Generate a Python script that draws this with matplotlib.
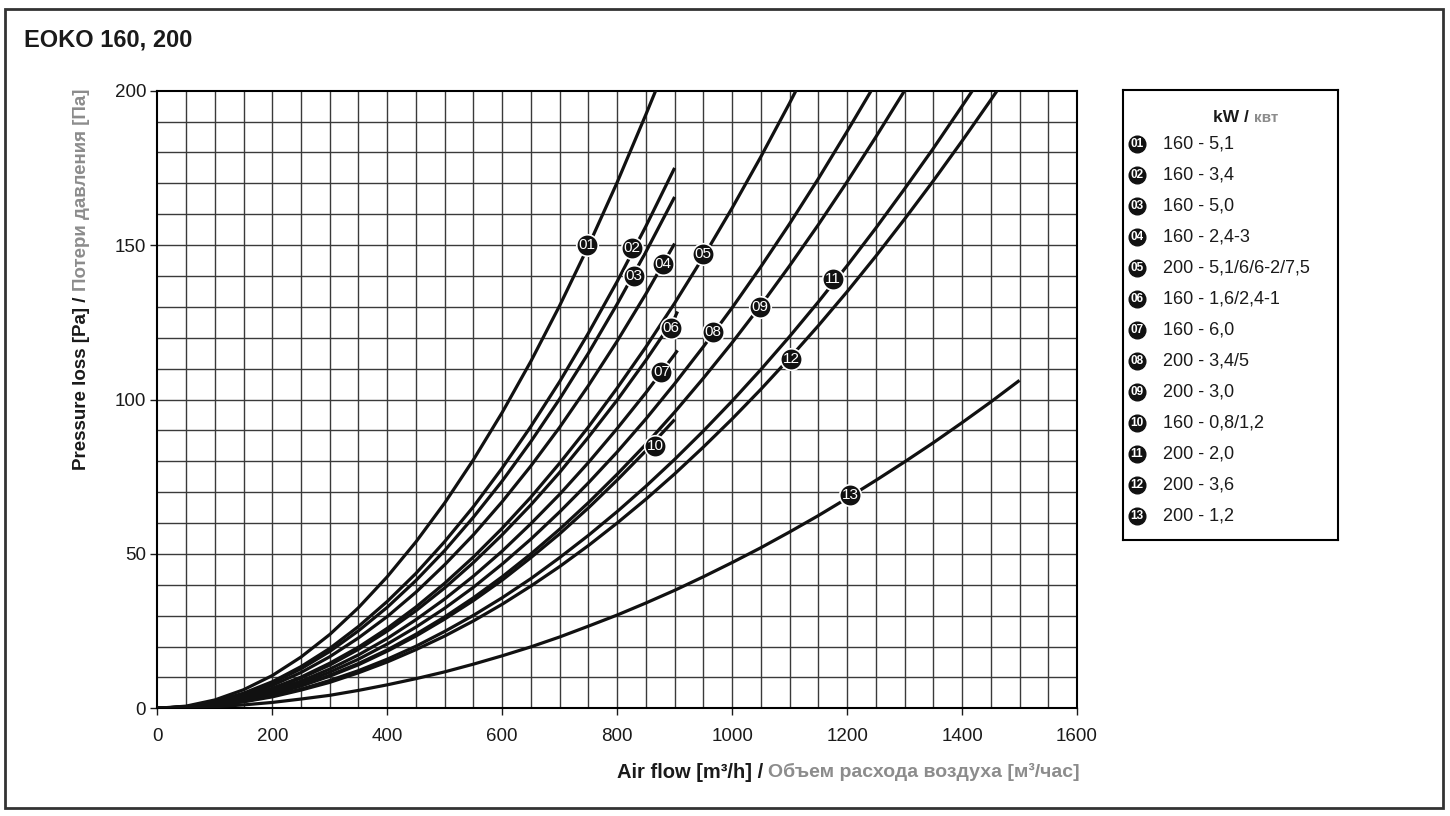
import matplotlib
matplotlib.use("Agg")
import matplotlib.pyplot as plt
from matplotlib.patches import Rectangle

plt.rcParams['font.family'] = ['Liberation Sans', 'DejaVu Sans']

W, H = 1450, 816

# air flow grid used for the read-off points [m3/h]
flow = [0, 50, 100, 150, 200, 250, 300, 350, 400, 450, 500, 550, 600, 650, 700, 750,
        800, 850, 900, 950, 1000, 1050, 1100, 1150, 1200, 1250, 1300, 1350, 1400, 1450]

# pressure loss [Pa] read on the flow grid, last value belongs to the curve end
p01 = [0, 0.7, 2.7, 6.0, 10.6, 16.6, 23.9, 32.6, 42.6, 53.9, 66.5, 80.5, 95.8, 112.4, 130.4,
       149.7, 170.3, 192.3, 200]
p02 = [0, 0.5, 2.2, 4.9, 8.6, 13.5, 19.4, 26.5, 34.6, 43.7, 54.0, 65.3, 77.8, 91.3, 105.8,
       121.5, 138.2, 156.1, 175.0]
p03 = [0, 0.5, 2.0, 4.6, 8.2, 12.8, 18.4, 25.1, 32.7, 41.4, 51.1, 61.9, 73.6, 86.4, 100.2,
       115.0, 130.9, 147.8, 165.6]
p04 = [0, 0.5, 1.9, 4.2, 7.4, 11.6, 16.7, 22.8, 29.7, 37.6, 46.5, 56.2, 66.9, 78.5, 91.0,
       104.5, 118.9, 134.2, 150.5]
p05 = [0, 0.4, 1.6, 3.6, 6.5, 10.1, 14.6, 19.8, 25.9, 32.8, 40.5, 49.0, 58.3, 68.4, 79.4,
       91.1, 103.7, 117.0, 131.2, 146.2, 162.0, 178.6, 196.0, 200]
p06 = [0, 0.4, 1.6, 3.5, 6.2, 9.8, 14.0, 19.1, 25.0, 31.6, 39.0, 47.2, 56.2, 65.9, 76.4,
       87.8, 99.8, 112.7, 126.4, 128.5]
p07 = [0, 0.4, 1.4, 3.2, 5.7, 8.8, 12.7, 17.3, 22.6, 28.7, 35.4, 42.8, 50.9, 59.8, 69.3,
       79.6, 90.6, 102.2, 114.6, 115.9]
p08 = [0, 0.3, 1.3, 2.9, 5.2, 8.1, 11.7, 15.9, 20.8, 26.3, 32.4, 39.2, 46.7, 54.8, 63.6,
       73.0, 83.0, 93.7, 105.1, 117.1, 129.7, 143.0, 156.9, 171.5, 186.8, 200]
p09 = [0, 0.3, 1.2, 2.7, 4.7, 7.4, 10.7, 14.5, 18.9, 24.0, 29.6, 35.8, 42.6, 50.0, 58.0,
       66.6, 75.8, 85.5, 95.9, 106.9, 118.4, 130.5, 143.3, 156.6, 170.5, 185.0, 200]
p10 = [0, 0.3, 1.2, 2.6, 4.6, 7.2, 10.4, 14.1, 18.5, 23.4, 28.9, 34.9, 41.5, 48.8, 56.5,
       64.9, 73.9, 83.4, 93.5]
p11 = [0, 0.2, 1.0, 2.2, 4.0, 6.2, 9.0, 12.2, 15.9, 20.1, 24.9, 30.1, 35.8, 42.0, 48.8,
       56.0, 63.7, 71.9, 80.6, 89.8, 99.5, 109.7, 120.4, 131.6, 143.3, 155.5, 168.2, 181.3,
       195.0, 200]
p12 = [0, 0.2, 0.9, 2.1, 3.7, 5.9, 8.4, 11.5, 15.0, 19.0, 23.4, 28.3, 33.7, 39.6, 45.9,
       52.7, 60.0, 67.7, 75.9, 84.6, 93.7, 103.3, 113.4, 123.9, 134.9, 146.4, 158.4, 170.8,
       183.7, 197.0, 200]
p13 = [0, 0.1, 0.5, 1.1, 1.9, 3.0, 4.2, 5.8, 7.6, 9.6, 11.8, 14.3, 17.0, 19.9, 23.1, 26.6,
       30.2, 34.1, 38.2, 42.6, 47.2, 52.0, 57.1, 62.4, 68.0, 73.8, 79.8, 86.0, 92.5, 99.2,
       106.2]

# air flow where each curve stops
flow_end = [867, 900, 900, 900, 1111, 905, 905, 1242, 1300, 900, 1418, 1461, 1500]

# numbered markers on the curves
curve_ids = ['01', '02', '03', '04', '05', '06', '07', '08', '09', '10', '11', '12', '13']
label_q = [747, 825, 829, 880, 950, 893, 877, 966, 1048, 866, 1176, 1103, 1205]
label_p = [150, 149, 140, 144, 147, 123, 109, 122, 130, 85, 139, 113, 69]

legend_text = ['160 - 5,1', '160 - 3,4', '160 - 5,0', '160 - 2,4-3', '200 - 5,1/6/6-2/7,5',
               '160 - 1,6/2,4-1', '160 - 6,0', '200 - 3,4/5', '200 - 3,0', '160 - 0,8/1,2',
               '200 - 2,0', '200 - 3,6', '200 - 1,2']

x_ticks = [0, 200, 400, 600, 800, 1000, 1200, 1400, 1600]
y_ticks = [0, 50, 100, 150, 200]

curves = [p01, p02, p03, p04, p05, p06, p07, p08, p09, p10, p11, p12, p13]

GRAY = '#8c8c8c'
fig = plt.figure(figsize=(W / 100, H / 100), dpi=100)
renderer = fig.canvas.get_renderer()


def fx(px):
    return px / W


def fy(py):
    return 1 - py / H


# outer frame
fig.patches.append(Rectangle((fx(5), fy(808)), fx(1443) - fx(5), fy(9) - fy(808),
                             transform=fig.transFigure, fill=False, lw=2, ec='#333333'))

fig.text(fx(24), fy(40), 'EOKO 160, 200', fontsize=17, fontweight='bold', va='center',
         color='#1a1a1a')

ax = fig.add_axes([fx(157.3), fy(708.3), fx(1077) - fx(157.3), fy(90.7) - fy(708.3)])
ax.set_xlim(0, 1600)
ax.set_ylim(0, 200)
for q in range(50, 1600, 50):
    ax.axvline(q, color='#3a3a3a', lw=1, zorder=1)
for p in range(10, 200, 10):
    ax.axhline(p, color='#3a3a3a', lw=1, zorder=1)
for s in ax.spines.values():
    s.set_linewidth(1.5)
ax.set_xticks(x_ticks)
ax.set_yticks(y_ticks)
ax.tick_params(direction='out', length=5, width=1, labelsize=13.5, colors='#1a1a1a')
ax.tick_params(axis='x', pad=9)
ax.tick_params(axis='y', pad=3)

for p, q_end in zip(curves, flow_end):
    q = flow[:len(p) - 1] + [q_end]
    ax.plot(q, p, color='#111111', lw=2.3, zorder=3, solid_capstyle='butt')

for cid, q, p in zip(curve_ids, label_q, label_p):
    ax.plot(q, p, 'o', ms=15.5, mfc='#111111', mec='white', mew=1.2, zorder=4)
    ax.text(q, p, cid, color='white', fontsize=11, ha='center', va='center', zorder=5)

# x axis label: black part + grey part, right aligned
t_ru = fig.text(fx(1080), fy(772), 'Объем расхода воздуха [м³/час]', fontsize=14,
                fontweight='bold', color=GRAY, ha='right', va='center')
bb = t_ru.get_window_extent(renderer)
fig.text(bb.x0 / W, fy(772), 'Air flow [m³/h] / ', fontsize=14.5, fontweight='bold',
         color='#1a1a1a', ha='right', va='center')

# y axis label, rotated, grey part at the top
t_ru = fig.text(fx(82), fy(89), 'Потери давления [Па]', fontsize=13.5, fontweight='bold',
                color=GRAY, rotation=90, ha='center', va='top')
bb = t_ru.get_window_extent(renderer)
fig.text(fx(82), bb.y0 / H, 'Pressure loss [Pa] / ', fontsize=13.5, fontweight='bold',
         color='#1a1a1a', rotation=90, ha='center', va='top')

# legend box
lax = fig.add_axes([fx(1123), fy(540), fx(1338) - fx(1123), fy(90) - fy(540)])
lax.set_xlim(0, 215)
lax.set_ylim(450, 0)
lax.set_xticks([])
lax.set_yticks([])
for s in lax.spines.values():
    s.set_linewidth(1.5)
lax.text(126, 27, 'kW /', fontsize=12.5, fontweight='bold', color='#1a1a1a', ha='right',
         va='center')
lax.text(131, 28, 'квт', fontsize=11, fontweight='bold', color=GRAY, ha='left', va='center')
for i, (cid, txt) in enumerate(zip(curve_ids, legend_text)):
    y = 54 + i * 31
    lax.plot(14, y, 'o', ms=12, mfc='#111111', mec='#111111')
    lax.text(14, y, cid, color='white', fontsize=8.5, fontweight='bold', ha='center',
             va='center')
    lax.text(40, y, txt, fontsize=13, color='#1a1a1a', ha='left', va='center')

fig.savefig('out.png', dpi=100)
